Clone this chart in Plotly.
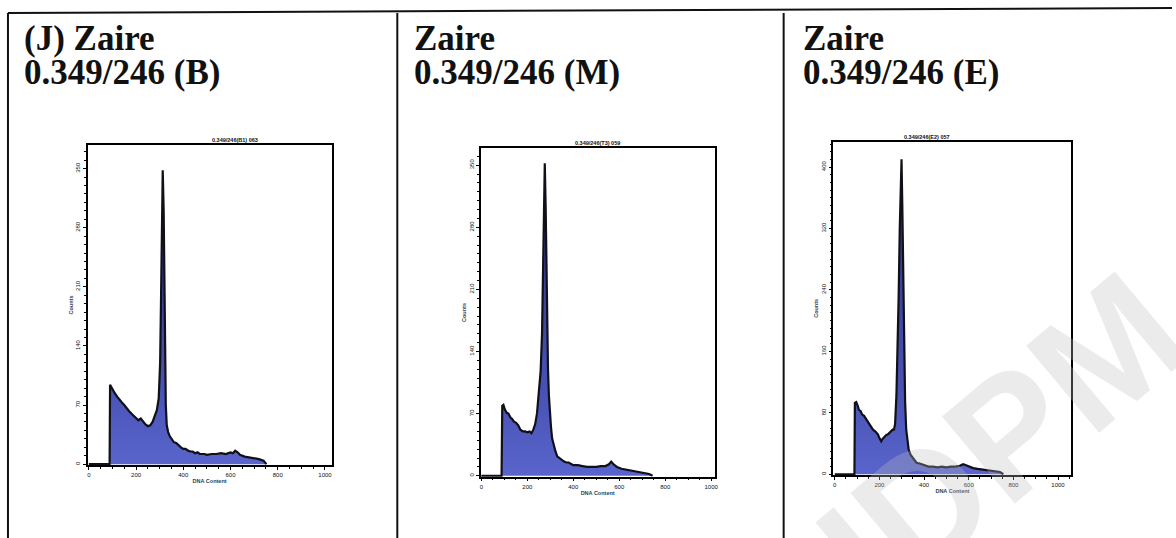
import plotly.graph_objects as go

W, H = 1176, 538

# ---- data: DNA content histograms (x = DNA content, y = counts) ----
b_dna = [0, 88, 90, 100, 110, 120, 130, 140, 150, 160, 170, 180, 190, 200, 210, 220, 230, 240, 250, 260,
         270, 278, 288, 296, 302, 306, 310, 313, 317, 320, 323, 326, 330, 336, 343, 350, 360, 370, 380,
         390, 400, 410, 420, 430, 440, 450, 460, 470, 480, 490, 500, 520, 540, 560, 580, 600, 610, 620,
         630, 640, 660, 680, 700, 720, 740, 752]
b_counts = [0, 0, 94, 88, 84, 80, 76, 73, 70, 66, 63, 60, 57, 55, 52, 54, 50, 47, 45, 46,
            50, 56, 64, 78, 120, 200, 300, 348, 300, 200, 120, 70, 46, 38, 33, 30, 26, 25, 22,
            20, 18, 18, 16, 15, 15, 13, 14, 12, 12, 12, 11, 12, 12, 13, 12, 14, 13, 16,
            14, 11, 9, 8, 7, 6, 4, 0]

m_dna = [0, 88, 91, 96, 102, 110, 118, 126, 134, 142, 150, 160, 170, 180, 190, 200, 210, 218, 226, 234,
         242, 250, 258, 264, 268, 272, 276, 280, 283, 286, 290, 294, 298, 303, 308, 314, 322, 330, 340,
         350, 360, 370, 380, 400, 420, 440, 460, 480, 500, 520, 540, 555, 565, 575, 590, 610, 630, 650,
         670, 690, 710, 730, 745]
m_counts = [0, 0, 79, 80, 75, 71, 70, 66, 64, 61, 60, 57, 52, 50, 50, 49, 50, 48, 52, 58,
            70, 90, 118, 160, 220, 290, 352, 300, 230, 160, 120, 90, 70, 55, 42, 35, 28, 22, 20,
            17, 16, 15, 15, 12, 12, 11, 10, 10, 10, 11, 11, 13, 16, 13, 10, 8, 7, 6,
            5, 4, 3, 2, 0]

e_dna = [0, 88, 90, 96, 103, 108, 116, 122, 131, 140, 149, 155, 160, 166, 171, 181, 193, 200, 208, 214,
         223, 230, 238, 246, 253, 259, 265, 270, 276, 281, 286, 291, 296, 299, 303, 307, 311, 315, 320,
         326, 331, 340, 348, 356, 366, 380, 400, 420, 440, 460, 480, 500, 520, 540, 560, 575, 585, 600,
         620, 640, 660, 680, 700, 720, 740, 755]
e_counts = [0, 0, 93, 94, 89, 84, 82, 78, 76, 72, 69, 66, 63, 60, 58, 56, 52, 47, 43, 46,
            49, 51, 52, 54, 56, 58, 58, 65, 102, 160, 231, 320, 395, 410, 340, 230, 145, 95, 58,
            42, 32, 25, 22, 18, 15, 14, 12, 10, 10, 9, 10, 9, 10, 10, 11, 13, 12, 10,
            8, 7, 6, 5, 5, 4, 3, 0]

panel_heads = ["(J) Zaire", "Zaire", "Zaire"]
panel_codes = ["0.349/246 (B)", "0.349/246 (M)", "0.349/246 (E)"]
file_titles = ["0.349/246(B1) 063", "0.349/246(T3) 059", "0.349/246(E2) 057"]
y_ticks = [[0, 70, 140, 210, 280, 350], [0, 70, 140, 210, 280, 350], [0, 80, 160, 240, 320, 400]]
y_minor = [10, 10, 10]
x_ticks = [0, 200, 400, 600, 800, 1000]

# ---- layout geometry (pixels) ----
boxes = [  # left, right, top, bottom
    (87, 332, 145, 465),
    (481.7, 716.7, 148.3, 476.7),
    (836, 1075, 141.7, 475),
]
x_ranges = [[-5, 1028], [-3, 1015], [-6, 1060]]
y_ranges = [[-1, 378], [-1, 369], [-1, 433]]
head_x = [21, 413, 803]


def px(x):
    return x / W


def py(y):
    return 1 - y / H


fig = go.Figure()

# faint watermark in the lower right corner
fig.add_annotation(x=px(1005), y=py(440), xref="paper", yref="paper", text="<b>IDPM</b>",
                   xanchor="center", yanchor="middle",
                   showarrow=False, textangle=-40,
                   font=dict(family="Liberation Sans", size=165, color="rgba(190,190,190,0.3)"))

series = [(b_dna, b_counts), (m_dna, m_counts), (e_dna, e_counts)]
tickfont = dict(family="Liberation Sans", size=6, color="#111")

for i, (xs, ys) in enumerate(series):
    n = "" if i == 0 else str(i + 1)
    fig.add_trace(go.Scatter(
        x=xs, y=ys, xaxis="x" + n, yaxis="y" + n, mode="lines",
        line=dict(color="#101018", width=2.2),
        fill="tozeroy",
        fillgradient=dict(type="vertical",
                          colorscale=[[0, "#5965cc"], [0.25, "#4a53b6"], [1, "#2d3080"]]),
        hoverinfo="skip", showlegend=False,
    ))
    l, r, t, b = boxes[i]
    axis_common = dict(showline=True, linecolor="black", linewidth=1.5, mirror=True,
                       showgrid=False, zeroline=False, ticks="outside", ticklen=3,
                       tickcolor="black", tickfont=tickfont)
    fig.layout["xaxis" + n] = dict(
        domain=[px(l), px(r)], range=x_ranges[i], anchor="y" + n,
        tickvals=x_ticks, ticktext=[str(v) for v in x_ticks],
        minor=dict(ticks="outside", ticklen=2, dtick=50, tickcolor="black"),
        title=dict(text="<b>DNA Content</b>", font=dict(family="Liberation Sans", size=5.5), standoff=2),
        **axis_common)
    fig.layout["yaxis" + n] = dict(
        domain=[py(b), py(t)], range=y_ranges[i], anchor="x" + n,
        tickvals=y_ticks[i], ticktext=[str(v) for v in y_ticks[i]], tickangle=-90,
        minor=dict(ticks="outside", ticklen=2, dtick=y_minor[i], tickcolor="black"),
        title=dict(text="<b>Counts</b>", font=dict(family="Liberation Sans", size=5.5), standoff=2),
        **axis_common)
    # file name above the plot box
    fig.add_annotation(x=px((l + r) / 2), y=py(t), xref="paper", yref="paper",
                       text="<b>" + file_titles[i] + "</b>", showarrow=False,
                       yanchor="bottom", font=dict(family="Liberation Sans", size=5.5, color="#111"))
    # panel headings
    fig.add_annotation(x=px(head_x[i]), y=py(38), xref="paper", yref="paper", xanchor="left",
                       yanchor="middle", text="<b>" + panel_heads[i] + "</b>", showarrow=False,
                       font=dict(family="Liberation Serif", size=35, color="#111"))
    fig.add_annotation(x=px(head_x[i]), y=py(73), xref="paper", yref="paper", xanchor="left",
                       yanchor="middle", text="<b>" + panel_codes[i] + "</b>", showarrow=False,
                       font=dict(family="Liberation Serif", size=35, color="#111"))

# table frame
frame = dict(type="line", xref="paper", yref="paper", line=dict(color="#111", width=2))
fig.add_shape(type="path", xref="paper", yref="paper", line=dict(color="#111", width=2),
              path=f"M {px(7)},{py(13)} Q {px(600)},{py(13)} {px(1176)},{py(8)}")
for xv in (7, 398, 786):
    fig.add_shape(x0=px(xv), x1=px(xv), y0=py(13), y1=py(538), **frame)

fig.update_layout(width=W, height=H, margin=dict(l=0, r=0, t=0, b=0),
                  paper_bgcolor="white", plot_bgcolor="white")
fig.write_html("out.html")
